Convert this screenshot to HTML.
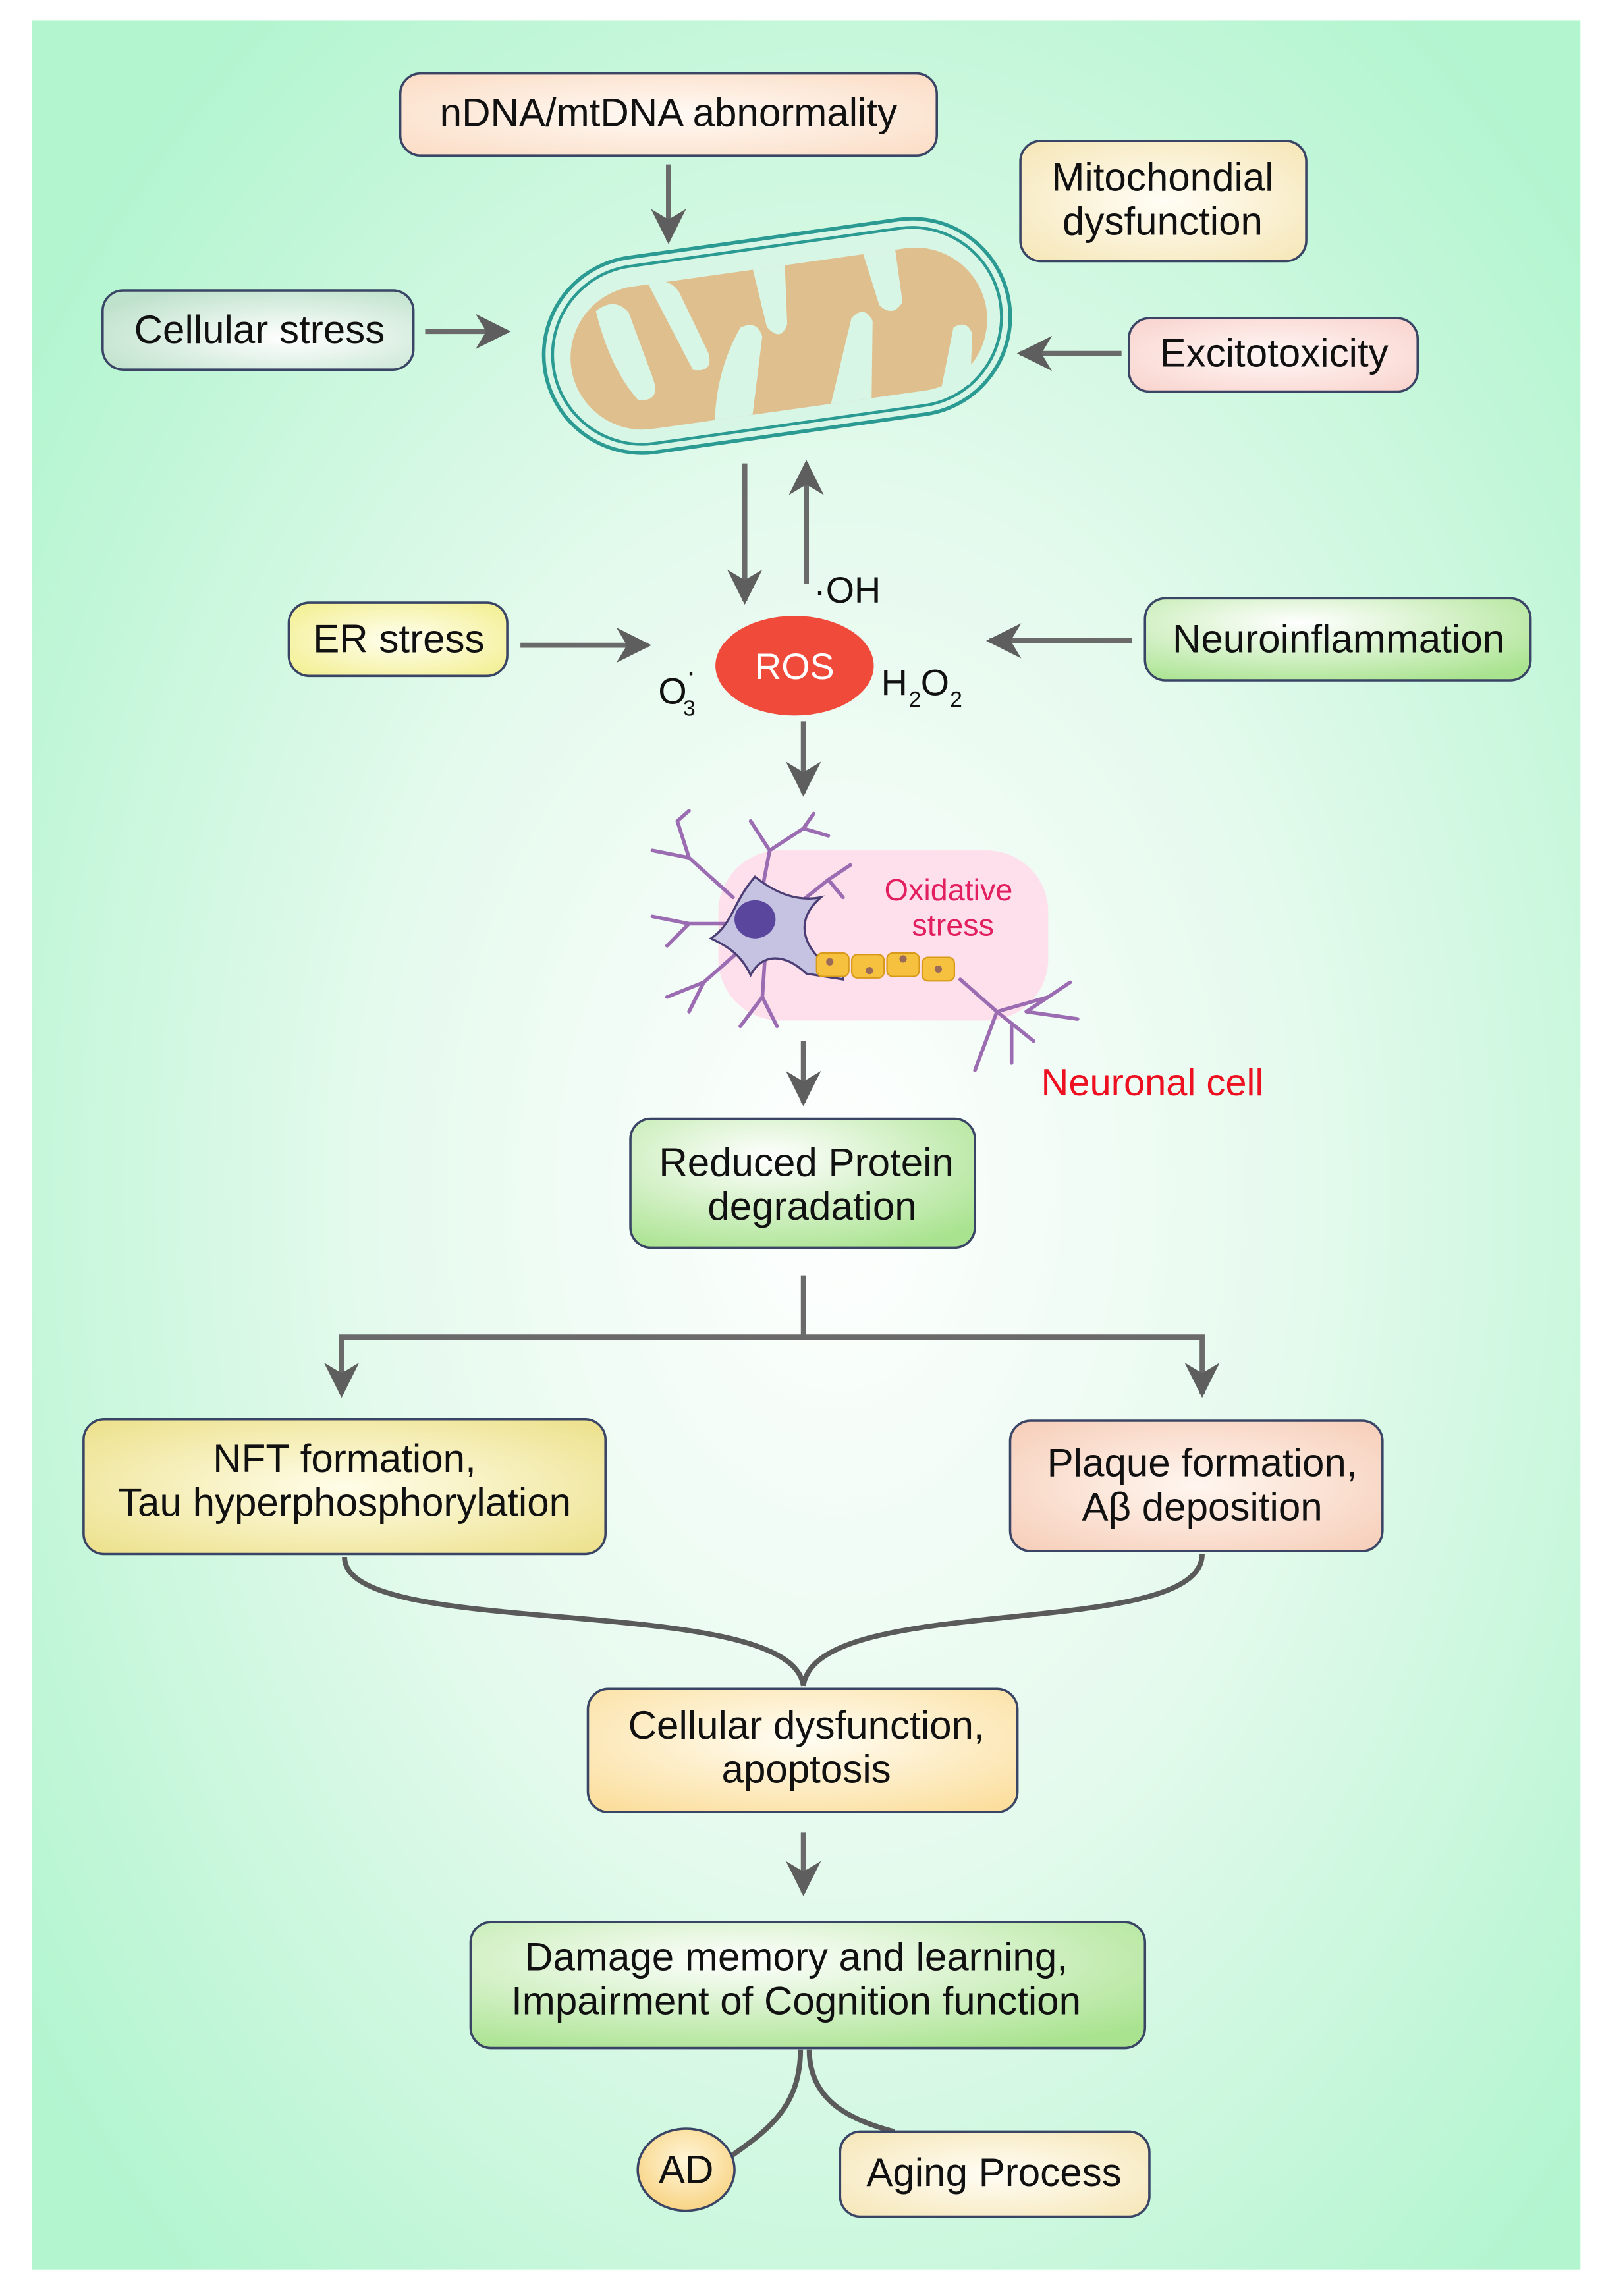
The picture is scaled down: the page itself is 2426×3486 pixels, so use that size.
<!DOCTYPE html>
<html><head><meta charset="utf-8"><style>html,body{margin:0;padding:0;background:#fff}svg{display:block}</style></head>
<body>
<svg width="2426" height="3486" viewBox="0 0 1090 1566" xmlns="http://www.w3.org/2000/svg" font-family="Liberation Sans, Arial, sans-serif">
<defs>
<radialGradient id="bg" cx="0.52" cy="0.52" r="0.65"><stop offset="0" stop-color="#ffffff"/><stop offset="0.45" stop-color="#e6faee"/><stop offset="1" stop-color="#b2f5cf"/></radialGradient>
<radialGradient id="gPeach" cx="0.5" cy="0.5" r="0.7"><stop offset="0" stop-color="#fffaf5"/><stop offset="1" stop-color="#fbdcc4"/></radialGradient>
<radialGradient id="gCream" cx="0.5" cy="0.5" r="0.7"><stop offset="0" stop-color="#fffdf5"/><stop offset="1" stop-color="#f6e6b6"/></radialGradient>
<radialGradient id="gMint" cx="0.6" cy="0.6" r="0.7"><stop offset="0" stop-color="#ffffff"/><stop offset="1" stop-color="#bfe2cc"/></radialGradient>
<radialGradient id="gPink" cx="0.5" cy="0.5" r="0.7"><stop offset="0" stop-color="#fff8f6"/><stop offset="1" stop-color="#f9d2cc"/></radialGradient>
<radialGradient id="gYel" cx="0.5" cy="0.5" r="0.7"><stop offset="0" stop-color="#fffff0"/><stop offset="1" stop-color="#f2ee8c"/></radialGradient>
<radialGradient id="gGreen" cx="0.4" cy="0.3" r="0.8"><stop offset="0" stop-color="#ffffff"/><stop offset="1" stop-color="#a9e38f"/></radialGradient>
<radialGradient id="gYel2" cx="0.5" cy="0.5" r="0.7"><stop offset="0" stop-color="#fffde8"/><stop offset="1" stop-color="#ece08a"/></radialGradient>
<radialGradient id="gPlaq" cx="0.5" cy="0.5" r="0.7"><stop offset="0" stop-color="#fff6ef"/><stop offset="1" stop-color="#f6cdb8"/></radialGradient>
<radialGradient id="gDys" cx="0.5" cy="0.4" r="0.75"><stop offset="0" stop-color="#fffdf3"/><stop offset="1" stop-color="#fbdd9a"/></radialGradient>
<radialGradient id="gAD" cx="0.5" cy="0.4" r="0.6"><stop offset="0" stop-color="#fff6da"/><stop offset="1" stop-color="#f8d485"/></radialGradient>
<marker id="ahb" viewBox="0 0 10 10" refX="9" refY="5" markerWidth="24" markerHeight="24" orient="auto" markerUnits="userSpaceOnUse"><path d="M0,0 L10,5 L0,10 L3,5 Z" fill="#5e5e5e"/></marker>
</defs>
<rect x="22" y="14" width="1056" height="1534" fill="url(#bg)"/>

<g stroke="#6a6a6a" stroke-width="3.5" fill="none" marker-end="url(#ahb)">
<line x1="456" y1="112" x2="456" y2="164"/>
<line x1="290" y1="226" x2="346" y2="226"/>
<line x1="765" y1="241" x2="696" y2="241"/>
<line x1="508" y1="316" x2="508" y2="410"/>
<line x1="550" y1="398" x2="550" y2="316"/>
<line x1="355" y1="440" x2="442" y2="440"/>
<line x1="772" y1="437" x2="675" y2="437"/>
<line x1="548" y1="492" x2="548" y2="541"/>
<line x1="548" y1="710" x2="548" y2="752"/>
<line x1="548" y1="1250" x2="548" y2="1291"/>
<polyline points="548,870 548,912 233,912 233,951"/>
<polyline points="548,912 820,912 820,951"/>
</g>
<g stroke="#5a5a5a" stroke-width="3.5" fill="none">
<path d="M235,1062 C235,1120 540,1085 548,1150"/>
<path d="M820,1060 C820,1120 556,1085 548,1150"/>
<path d="M546,1398 C546,1440 520,1455 497,1472"/>
<path d="M552,1398 C552,1430 575,1445 610,1454"/>
</g>

<!-- mitochondrion -->
<g transform="rotate(-8 530 229)">
<rect x="370" y="162" width="320" height="134" rx="67" fill="#d8f6e6" stroke="#2a9a92" stroke-width="2.5"/>
<rect x="376" y="168" width="308" height="122" rx="61" fill="none" stroke="#2a9a92" stroke-width="2"/>
<rect x="388" y="182" width="286" height="98" rx="49" fill="#e0bf8e"/>
<g fill="#d8f6e6">
<path d="M410,195 q14,-8 22,4 l10,46 q4,18 -12,14 q-16,-24 -20,-64z"/>
<path d="M448,182 q14,-4 20,8 l14,44 q2,14 -12,10 z"/>
<path d="M480,280 q6,-34 26,-60 q12,-4 14,8 l-14,52z"/>
<path d="M520,182 l22,0 l-4,40 q-6,12 -14,0z"/>
<path d="M560,280 l22,-56 q10,-8 14,4 l-8,52z"/>
<path d="M596,182 l22,0 l0,36 q-8,10 -16,0z"/>
<path d="M636,280 l14,-40 q10,-4 12,6 l-6,34z"/>
</g>
</g>

<!-- boxes -->
<g stroke="#3a4566" stroke-width="1.6">
<rect x="273" y="50" width="366" height="56" rx="14" fill="url(#gPeach)"/>
<rect x="696" y="96" width="195" height="82" rx="14" fill="url(#gCream)"/>
<rect x="70" y="198" width="212" height="54" rx="14" fill="url(#gMint)"/>
<rect x="770" y="217" width="197" height="50" rx="14" fill="url(#gPink)"/>
<rect x="197" y="411" width="149" height="50" rx="14" fill="url(#gYel)"/>
<rect x="781" y="408" width="263" height="56" rx="14" fill="url(#gGreen)"/>
<rect x="430" y="763" width="235" height="88" rx="14" fill="url(#gGreen)"/>
<rect x="57" y="968" width="356" height="92" rx="14" fill="url(#gYel2)"/>
<rect x="689" y="969" width="254" height="89" rx="14" fill="url(#gPlaq)"/>
<rect x="401" y="1152" width="293" height="84" rx="14" fill="url(#gDys)"/>
<rect x="321" y="1311" width="460" height="86" rx="14" fill="url(#gGreen)"/>
<ellipse cx="468" cy="1480" rx="33" ry="28" fill="url(#gAD)"/>
<rect x="573" y="1454" width="211" height="58" rx="14" fill="url(#gCream)"/>
</g>

<ellipse cx="542" cy="454" rx="54" ry="34" fill="#f04a3a"/>

<!-- neuron -->
<rect x="490" y="580" width="225" height="116" rx="42" fill="#fde0ec"/>
<g stroke="#9b6cb2" stroke-width="2.5" fill="none" stroke-linecap="round">
<path d="M500,612 L470,585 L462,560 M470,585 L445,580 M462,560 L470,553"/>
<path d="M520,606 L525,580 L512,560 M525,580 L548,565 L555,555 M548,565 L565,570"/>
<path d="M540,620 L565,600 L580,590 M565,600 L575,612"/>
<path d="M498,630 L470,630 L445,625 M470,630 L455,645"/>
<path d="M505,648 L480,670 L455,680 M480,670 L470,690"/>
<path d="M522,650 L520,680 L505,700 M520,680 L530,700"/>
<path d="M655,668 L680,690 L715,680 M680,690 L705,710 M690,700 L690,725 M680,690 L665,730 M700,690 L730,670 M700,690 L735,695"/>
</g>
<path d="M515,598 C530,610 545,615 560,612 C545,625 545,640 560,655 L575,660 L575,668 L550,664 C535,650 520,650 512,665 C505,650 495,645 485,640 C500,630 500,615 515,598Z" fill="#c5c2e2" stroke="#4b3e74" stroke-width="1.5"/>
<ellipse cx="515" cy="627" rx="14" ry="13" fill="#5a469c"/>
<g fill="#f6c13e" stroke="#d89a1a" stroke-width="1">
<rect x="557" y="650" width="22" height="16" rx="4"/>
<rect x="581" y="651" width="22" height="16" rx="4"/>
<rect x="605" y="650" width="22" height="16" rx="4"/>
<rect x="629" y="653" width="22" height="16" rx="4"/>
</g>
<g fill="#9a6a5a"><circle cx="566" cy="656" r="2.5"/><circle cx="593" cy="662" r="2.5"/><circle cx="616" cy="654" r="2.5"/><circle cx="640" cy="661" r="2.5"/></g>

<!-- text -->
<g font-size="27" fill="#111" text-anchor="middle">
<text x="456" y="86">nDNA/mtDNA abnormality</text>
<text x="793" y="130">Mitochondial</text>
<text x="793" y="160">dysfunction</text>
<text x="177" y="234">Cellular stress</text>
<text x="869" y="250">Excitotoxicity</text>
<text x="272" y="445">ER stress</text>
<text x="913" y="445">Neuroinflammation</text>
<text x="550" y="802">Reduced Protein</text>
<text x="554" y="832">degradation</text>
<text x="235" y="1004">NFT formation,</text>
<text x="235" y="1034">Tau hyperphosphorylation</text>
<text x="820" y="1007">Plaque formation,</text>
<text x="820" y="1037">Aβ deposition</text>
<text x="550" y="1186">Cellular dysfunction,</text>
<text x="550" y="1216">apoptosis</text>
<text x="543" y="1344">Damage memory and learning,</text>
<text x="543" y="1374">Impairment of Cognition function</text>
<text x="468" y="1489">AD</text>
<text x="678" y="1491">Aging Process</text>
<text x="542" y="463" fill="#fff" font-size="25">ROS</text>
</g>
<g font-size="25" fill="#111">
<text x="555" y="411">·OH</text>
<text x="449" y="480">O</text><text x="466" y="488" font-size="15">3</text><text x="468" y="465" font-size="20">·</text>
<text x="601" y="474">H</text><text x="620" y="482" font-size="15">2</text><text x="628" y="474">O</text><text x="648" y="482" font-size="15">2</text>
</g>
<g font-size="21" fill="#e3205f" text-anchor="middle">
<text x="647" y="614">Oxidative</text>
<text x="650" y="638">stress</text>
</g>
<text x="786" y="747" font-size="26" fill="#ec1020" text-anchor="middle">Neuronal cell</text>
</svg>
</body></html>
